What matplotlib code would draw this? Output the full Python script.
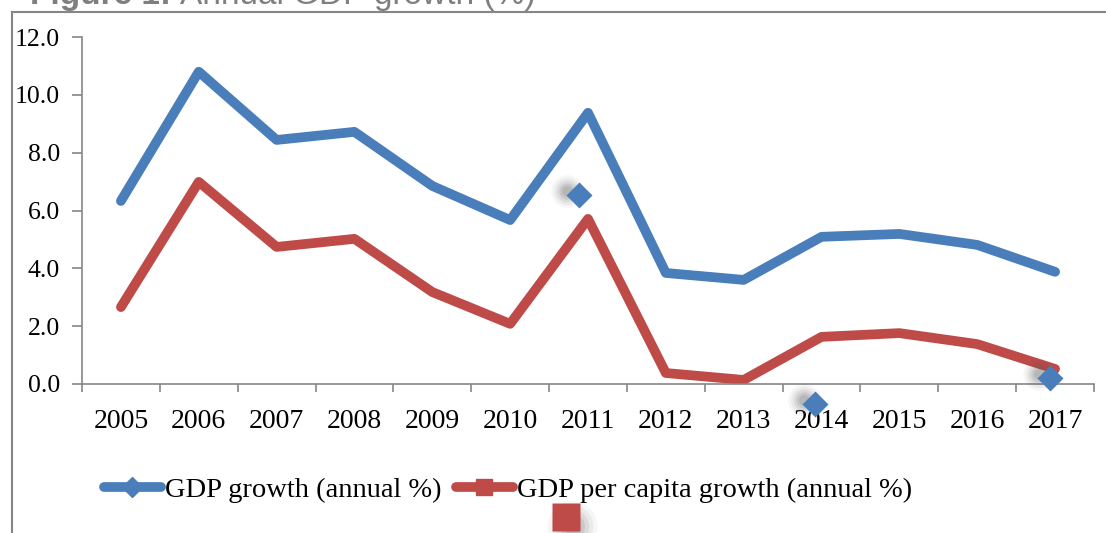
import matplotlib
matplotlib.use("Agg")
import matplotlib.pyplot as plt
from matplotlib.lines import Line2D
import numpy as np

years = ["2005", "2006", "2007", "2008", "2009", "2010", "2011", "2012", "2013", "2014", "2015", "2016", "2017"]
gdp_growth = [6.33, 10.8, 8.44, 8.72, 6.85, 5.67, 9.38, 3.84, 3.6, 5.09, 5.19, 4.81, 3.88]
gdp_pc_growth = [2.66, 6.99, 4.74, 5.02, 3.18, 2.08, 5.71, 0.38, 0.14, 1.63, 1.76, 1.38, 0.52]
# stray marker artefacts visible in the picture (category index, value)
stray_diamond_x = [5.88, 8.92, 11.94]
stray_diamond_y = [6.54, -0.69, 0.21]
stray_square_x = [5.72]
stray_square_y = [-4.6]

BLUE = "#4a7ebb"
RED = "#be4b48"
GRAY = "#868686"

plt.rcParams["font.family"] = ["Liberation Serif", "DejaVu Serif"]

fig = plt.figure(figsize=(11.06, 5.33), dpi=100)
W, H = 1106, 533
ax = fig.add_axes([82 / W, 1 - 384 / H, (1094 - 82) / W, (384 - 37) / H])

x = np.arange(len(years))
ax.plot(x, gdp_growth, color=BLUE, lw=7, solid_capstyle="round", solid_joinstyle="round")
ax.plot(x, gdp_pc_growth, color=RED, lw=7, solid_capstyle="round", solid_joinstyle="round")

def shadowed(xs, ys, marker, color, size, dx, dy):
    for xx, yy in zip(xs, ys):
        for k, a in [(1.8, 0.05), (1.5, 0.07), (1.2, 0.1), (0.9, 0.13), (0.6, 0.15)]:
            ax.plot([xx + dx], [yy + dy], marker="o", ms=size * k, color="#555555",
                    alpha=a, mec="none", clip_on=False, zorder=4)
        ax.plot([xx], [yy], marker=marker, ms=size, color=color, mec="none", clip_on=False, zorder=5)

shadowed(stray_diamond_x, stray_diamond_y, "D", BLUE, 13, -0.15, 0.12)
shadowed(stray_square_x, stray_square_y, "s", RED, 20, 0.08, -0.3)

ax.set_xlim(-0.5, 12.5)
ax.set_ylim(0, 12)
ax.set_yticks(np.arange(0, 12.1, 2))
ax.set_yticklabels([f"{v:.1f}" for v in np.arange(0, 12.1, 2)])
ax.set_xticks(x)
ax.set_xticklabels(years)
ax.set_xticks(np.arange(-0.5, 12.6, 1), minor=True)
ax.tick_params(axis="x", which="major", length=0, labelsize=20, pad=18)
ax.tick_params(axis="x", which="minor", length=6, color=GRAY, width=1.2)
ax.tick_params(axis="y", length=7, color=GRAY, width=1.2, labelsize=18.5, pad=9)
for s in ["top", "right"]:
    ax.spines[s].set_visible(False)
for s in ["left", "bottom"]:
    ax.spines[s].set_color(GRAY)
    ax.spines[s].set_linewidth(1.2)

# legend
h1 = Line2D([], [], color=BLUE, lw=7, marker="D", ms=10, mec=BLUE, solid_capstyle="round")
h2 = Line2D([], [], color=RED, lw=7, marker="s", ms=12, mec=RED, solid_capstyle="round")
fig.legend([h1, h2], ["GDP growth (annual %)", "GDP per capita growth (annual %)"],
           loc="center", bbox_to_anchor=(508 / W, 1 - 490 / H), ncol=2, frameon=False,
           fontsize=20.5, handlelength=2.0, handletextpad=0.15, columnspacing=0.5)

# outer frame
fig.add_artist(Line2D([12 / W, 12 / W], [0, 1 - 12 / H], color=GRAY, lw=1.5))
fig.add_artist(Line2D([12 / W, 1], [1 - 12 / H, 1 - 12 / H], color=GRAY, lw=1.5))

# title (cut off at top, as in the reference)
fig.text(30 / W, 1 - 4 / H, "Figure 1:", fontsize=24, fontweight="bold", color="#7f7f7f",
         family=["Liberation Sans", "DejaVu Sans"], va="baseline", ha="left")
fig.text(180 / W, 1 - 4 / H, "Annual GDP growth (%)", fontsize=24, color="#7f7f7f",
         family=["Liberation Sans", "DejaVu Sans"], va="baseline", ha="left")

fig.savefig("out.png", dpi=100)
